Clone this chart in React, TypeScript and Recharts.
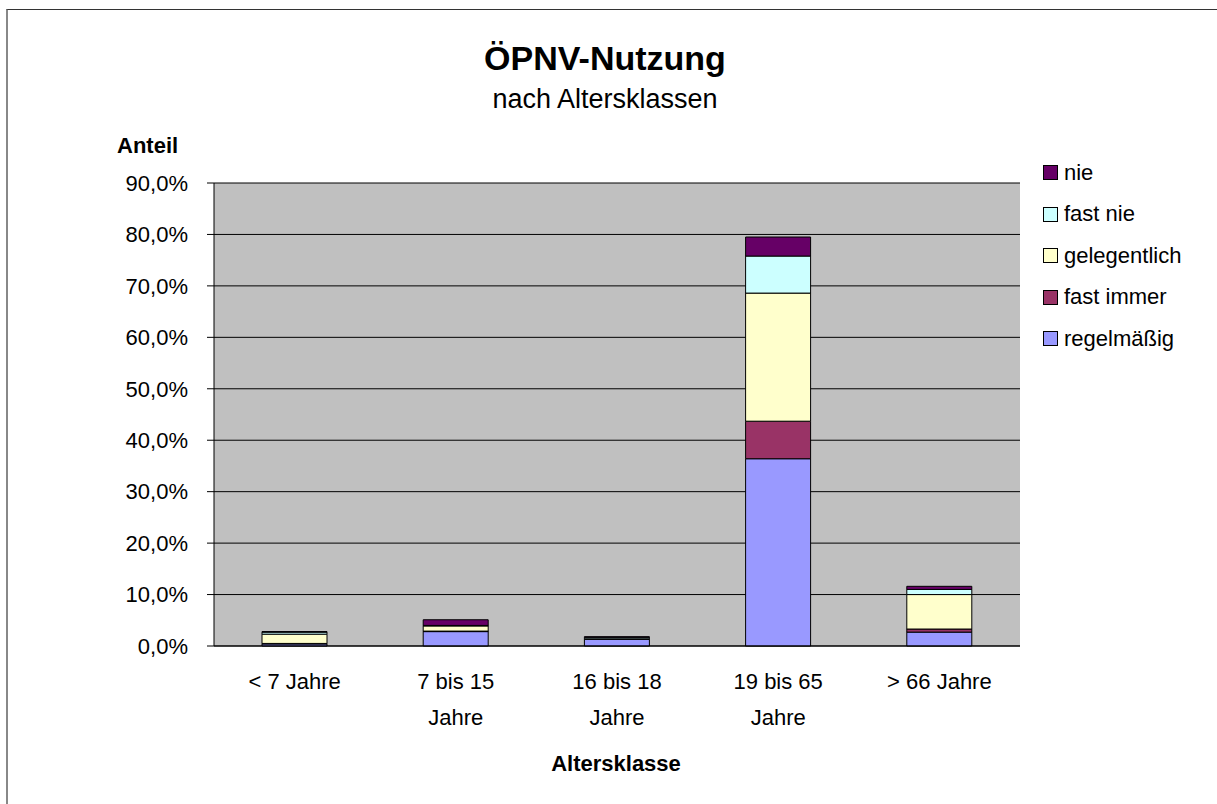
import { Bar, BarChart, CartesianGrid, XAxis, YAxis } from "recharts";

const categories = ["< 7 Jahre", "7 bis 15 Jahre", "16 bis 18 Jahre", "19 bis 65 Jahre", "> 66 Jahre"];
const tickLines = [["< 7 Jahre"], ["7 bis 15", "Jahre"], ["16 bis 18", "Jahre"], ["19 bis 65", "Jahre"], ["> 66 Jahre"]];

const regelmaessig = [0.4, 2.8, 1.3, 36.4, 2.7];
const fastImmer = [0.1, 0.1, 0.0, 7.3, 0.6];
const gelegentlich = [1.8, 1.0, 0.1, 24.9, 6.7];
const fastNie = [0.4, 0.1, 0.3, 7.2, 1.0];
const nie = [0.1, 1.1, 0.1, 3.7, 0.6];

const yTicks = [0, 10, 20, 30, 40, 50, 60, 70, 80, 90];

const series = [
  { key: "regelmaessig", name: "regelmäßig", color: "#9999FF" },
  { key: "fastImmer", name: "fast immer", color: "#993366" },
  { key: "gelegentlich", name: "gelegentlich", color: "#FFFFCC" },
  { key: "fastNie", name: "fast nie", color: "#CCFFFF" },
  { key: "nie", name: "nie", color: "#660066" },
];

const data = categories.map((name, i) => ({
  name,
  regelmaessig: regelmaessig[i],
  fastImmer: fastImmer[i],
  gelegentlich: gelegentlich[i],
  fastNie: fastNie[i],
  nie: nie[i],
}));

const FONT = '"Liberation Sans", Arial, sans-serif';

function fmtPct(v: number) {
  return v.toFixed(1).replace(".", ",") + "%";
}

function CategoryTick(props: any) {
  const { x, y, index } = props;
  const lines = tickLines[index] ?? [String(props.payload?.value)];
  return (
    <g>
      {lines.map((line: string, i: number) => (
        <text key={i} x={x} y={y + 43 + i * 36} textAnchor="middle" fontSize={22} fill="#000" fontFamily={FONT}>
          {line}
        </text>
      ))}
    </g>
  );
}

// legend lists the top of the stack first, like the original
function LegendBox() {
  const items = [...series].reverse();
  return (
    <div style={{ position: "absolute", left: 1043, top: 152, fontFamily: FONT, fontSize: 22, color: "#000" }}>
      {items.map((it) => (
        <div key={it.key} style={{ display: "flex", alignItems: "center", height: 41.5 }}>
          <span
            style={{
              display: "inline-block",
              width: 13,
              height: 13,
              background: it.color,
              border: "1px solid #000",
              marginRight: 6,
            }}
          />
          <span>{it.name}</span>
        </div>
      ))}
    </div>
  );
}

export default function App() {
  return (
    <div style={{ position: "fixed", left: 0, top: 0, width: 1217, height: 804, overflow: "hidden", background: "#fff" }}>
      <style>{"html,body{margin:0;overflow:hidden}"}</style>
      <div
        style={{
          position: "absolute",
          left: 6,
          top: 9,
          width: 1400,
          height: 900,
          borderTop: "1px solid #333",
          borderLeft: "2px solid #888",
        }}
      />
      <svg style={{ position: "absolute", left: 0, top: 0 }} width={1217} height={804}>
        <text x={605} y={70} textAnchor="middle" fontSize={34} fontWeight="bold" fontFamily={FONT}>
          ÖPNV-Nutzung
        </text>
        <text x={605} y={108} textAnchor="middle" fontSize={27} fontFamily={FONT}>
          nach Altersklassen
        </text>
        <text x={117} y={153} fontSize={22} fontWeight="bold" fontFamily={FONT}>
          Anteil
        </text>
        <text x={616} y={771} textAnchor="middle" fontSize={22} fontWeight="bold" fontFamily={FONT}>
          Altersklasse
        </text>
      </svg>
      <div style={{ position: "absolute", left: 0, top: 0 }}>
        <BarChart
          width={1217}
          height={804}
          data={data}
          margin={{ top: 183, right: 197, bottom: 98, left: 114 }}
          barSize={65}
        >
          <CartesianGrid fill="#C0C0C0" stroke="#000" vertical={false} />
          <XAxis
            dataKey="name"
            height={60}
            tickSize={0}
            tickMargin={0}
            tick={<CategoryTick />}
            interval={0}
            axisLine={{ stroke: "#000" }}
          />
          <YAxis
            domain={[0, 90]}
            ticks={yTicks}
            width={100}
            tickSize={7}
            tickMargin={19}
            tickFormatter={fmtPct}
            tick={{ fontSize: 22, fill: "#000", fontFamily: FONT }}
            axisLine={{ stroke: "#000" }}
            tickLine={{ stroke: "#000" }}
            interval={0}
          />
          <YAxis
            yAxisId="right"
            orientation="right"
            domain={[0, 90]}
            width={0}
            tick={false}
            tickLine={false}
            axisLine={{ stroke: "#808080" }}
          />
          {series.map((s) => (
            <Bar
              key={s.key}
              dataKey={s.key}
              name={s.name}
              stackId="a"
              fill={s.color}
              stroke="#000"
              strokeWidth={1}
              isAnimationActive={false}
            />
          ))}
        </BarChart>
      </div>
      <LegendBox />
    </div>
  );
}
